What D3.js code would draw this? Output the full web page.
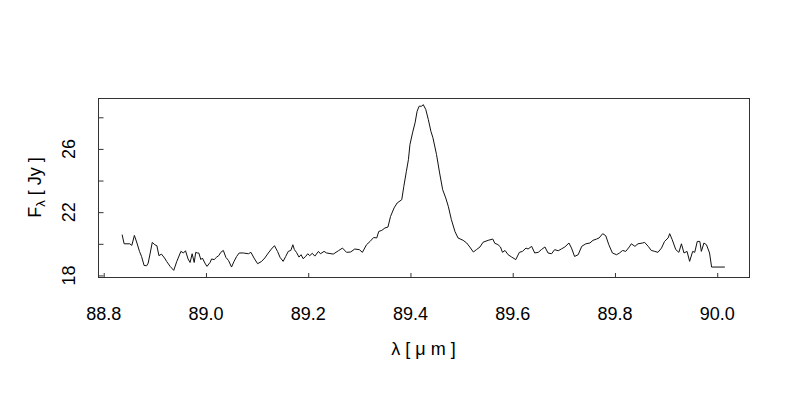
<!DOCTYPE html>
<html>
<head>
<meta charset="utf-8">
<script src="https://cdn.jsdelivr.net/npm/d3@7"></script>
<style>
  body { margin: 0; background: #fff; }
  text { font-family: "Liberation Sans", Arial, Helvetica, sans-serif; fill: #000; }
</style>
</head>
<body>
<div id="chart"></div>
<script>
// wavelength (micron) and flux (Jy)
const wavelength = [
  88.836, 88.840, 88.851, 88.855, 88.860, 88.865, 88.870, 88.874, 88.879, 88.884,
  88.887, 88.891, 88.895, 88.900, 88.904, 88.908, 88.913, 88.919, 88.923, 88.930,
  88.937, 88.943, 88.951, 88.956, 88.960, 88.965, 88.969, 88.973, 88.977, 88.980,
  88.983, 88.986, 88.990, 88.993, 88.998, 89.002, 89.008, 89.011, 89.016, 89.021,
  89.025, 89.029, 89.034, 89.039, 89.044, 89.050, 89.055, 89.060, 89.065, 89.073,
  89.083, 89.088, 89.094, 89.101, 89.109, 89.115, 89.122, 89.128, 89.134, 89.140,
  89.145, 89.151, 89.156, 89.161, 89.166, 89.170, 89.173, 89.177, 89.182, 89.186,
  89.190, 89.195, 89.199, 89.203, 89.208, 89.213, 89.220, 89.224, 89.231, 89.236,
  89.249, 89.259, 89.267, 89.275, 89.283, 89.291, 89.300, 89.306, 89.314, 89.321,
  89.328, 89.334, 89.338, 89.344, 89.350, 89.356, 89.361, 89.368, 89.374, 89.383,
  89.387, 89.392, 89.396, 89.399, 89.404, 89.409, 89.413, 89.417, 89.422, 89.425,
  89.430, 89.435, 89.440, 89.444, 89.451, 89.457, 89.463, 89.469, 89.474, 89.480,
  89.487, 89.493, 89.503, 89.510, 89.516, 89.523, 89.529, 89.536, 89.542, 89.552,
  89.561, 89.565, 89.571, 89.576, 89.580, 89.585, 89.591, 89.598, 89.606, 89.613,
  89.619, 89.626, 89.630, 89.637, 89.643, 89.650, 89.656, 89.663, 89.669, 89.676,
  89.682, 89.689, 89.695, 89.702, 89.710, 89.715, 89.721, 89.728, 89.735, 89.743,
  89.751, 89.757, 89.764, 89.769, 89.776, 89.782, 89.788, 89.795, 89.803, 89.809,
  89.815, 89.821, 89.828, 89.832, 89.839, 89.845, 89.854, 89.858, 89.865, 89.871,
  89.878, 89.884, 89.891, 89.897, 89.904, 89.907, 89.912, 89.919, 89.925, 89.930,
  89.935, 89.941, 89.946, 89.952, 89.956, 89.961, 89.966, 89.969, 89.974, 89.979,
  89.985, 89.989, 90.015
];
const flux = [
  20.58, 20.00, 20.00, 19.90, 20.53, 20.05, 19.52, 19.20, 18.63, 18.61,
  18.78, 19.42, 20.09, 19.94, 19.88, 19.25, 19.35, 19.10, 18.89, 18.57,
  18.32, 18.89, 19.52, 19.42, 19.56, 19.04, 18.82, 19.37, 18.82, 19.46,
  19.42, 19.42, 19.00, 19.10, 18.78, 18.57, 18.82, 19.04, 19.00, 19.16,
  19.25, 19.46, 19.58, 19.14, 18.95, 18.53, 18.89, 19.20, 19.42, 19.42,
  19.37, 19.46, 19.10, 18.74, 18.89, 19.10, 19.42, 19.67, 19.88, 19.52,
  19.14, 18.89, 19.20, 19.52, 19.58, 19.94, 19.63, 19.46, 19.16, 19.31,
  19.06, 19.20, 19.37, 19.25, 19.40, 19.22, 19.52, 19.37, 19.52, 19.42,
  19.35, 19.56, 19.73, 19.46, 19.48, 19.67, 19.63, 19.46, 19.94, 20.15,
  20.40, 20.37, 20.78, 20.85, 21.00, 21.06, 21.73, 22.27, 22.58, 22.79,
  23.63, 24.58, 25.32, 26.27, 27.01, 27.65, 28.38, 28.70, 28.70, 28.80,
  28.49, 27.85, 27.11, 26.70, 25.64, 24.48, 23.42, 22.90, 22.37, 21.53,
  20.78, 20.37, 20.22, 20.05, 19.80, 19.48, 19.63, 19.80, 20.10, 20.22,
  20.30, 20.03, 19.95, 19.80, 19.46, 19.58, 19.31, 19.16, 19.00, 19.46,
  19.52, 19.73, 19.67, 19.84, 19.42, 19.46, 19.63, 19.80, 19.42, 19.37,
  19.63, 19.56, 19.67, 19.80, 20.05, 19.73, 19.20, 19.31, 19.84, 20.00,
  20.05, 20.22, 20.30, 20.37, 20.64, 20.51, 19.94, 19.42, 19.31, 19.42,
  19.58, 19.52, 19.80, 20.00, 19.84, 20.00, 20.05, 20.09, 19.84, 19.58,
  19.52, 19.46, 19.73, 20.15, 20.37, 20.64, 20.26, 19.63, 19.46, 20.00,
  19.42, 19.52, 18.89, 19.52, 19.46, 20.15, 20.15, 19.52, 20.05, 19.94,
  19.42, 18.53, 18.53
];

const xTicks = [88.8, 89.0, 89.2, 89.4, 89.6, 89.8, 90.0];
const yTicks = [18, 20, 22, 24, 26, 28];
const yLabelled = [18, 22, 26];

const width = 800, height = 400;
const margin = { top: 98, right: 51, bottom: 123, left: 98 };

// R style axis range: data range padded by 4% on each side
function padded(ext) {
  const d = (ext[1] - ext[0]) * 0.04;
  return [ext[0] - d, ext[1] + d];
}

const x = d3.scaleLinear()
  .domain(padded(d3.extent(wavelength)))
  .range([margin.left, width - margin.right]);
const y = d3.scaleLinear()
  .domain(padded(d3.extent(flux)))
  .range([height - margin.bottom, margin.top]);

const svg = d3.select("#chart").append("svg")
  .attr("width", width)
  .attr("height", height);

const data = wavelength.map((w, i) => ({ w: w, f: flux[i] }));

svg.append("path")
  .datum(data)
  .attr("fill", "none")
  .attr("stroke", "#111")
  .attr("stroke-width", 1)
  .attr("d", d3.line().x(d => x(d.w)).y(d => y(d.f)));

// ticks point inward
const xAxis = svg.append("g")
  .attr("transform", `translate(0,${height - margin.bottom + 0.5})`)
  .call(d3.axisBottom(x).tickValues(xTicks).tickSize(-4.5).tickFormat(""));
const yAxis = svg.append("g")
  .attr("transform", `translate(${margin.left + 0.5},0)`)
  .call(d3.axisLeft(y).tickValues(yTicks).tickSize(-5).tickFormat(""));
[xAxis, yAxis].forEach(g => {
  g.select(".domain").remove();
  g.selectAll(".tick line").attr("stroke", "#333");
});

svg.append("rect")
  .attr("x", margin.left + 0.5)
  .attr("y", margin.top + 0.5)
  .attr("width", width - margin.left - margin.right)
  .attr("height", height - margin.top - margin.bottom)
  .attr("fill", "none")
  .attr("stroke", "#333")
  .attr("stroke-width", 1);

svg.selectAll(".xlab")
  .data(xTicks)
  .enter().append("text")
  .attr("class", "xlab")
  .attr("x", d => x(d))
  .attr("y", 320)
  .attr("text-anchor", "middle")
  .attr("font-size", 18)
  .text(d => d.toFixed(1));

svg.selectAll(".ylab")
  .data(yLabelled)
  .enter().append("text")
  .attr("class", "ylab")
  .attr("transform", d => `translate(75,${y(d)}) rotate(-90)`)
  .attr("text-anchor", "middle")
  .attr("font-size", 18)
  .text(d => d);

svg.append("text")
  .attr("x", (margin.left + width - margin.right) / 2)
  .attr("y", 355)
  .attr("text-anchor", "middle")
  .attr("font-size", 18)
  .text("λ [ μ m ]");

const yTitle = svg.append("text")
  .attr("transform", `translate(41,${(margin.top + height - margin.bottom) / 2}) rotate(-90)`)
  .attr("text-anchor", "middle")
  .attr("font-size", 18);
yTitle.append("tspan").text("F");
yTitle.append("tspan").attr("font-size", 13).attr("dy", 4).text("λ");
yTitle.append("tspan").attr("dy", -4).text(" [ Jy ]");
</script>
</body>
</html>
